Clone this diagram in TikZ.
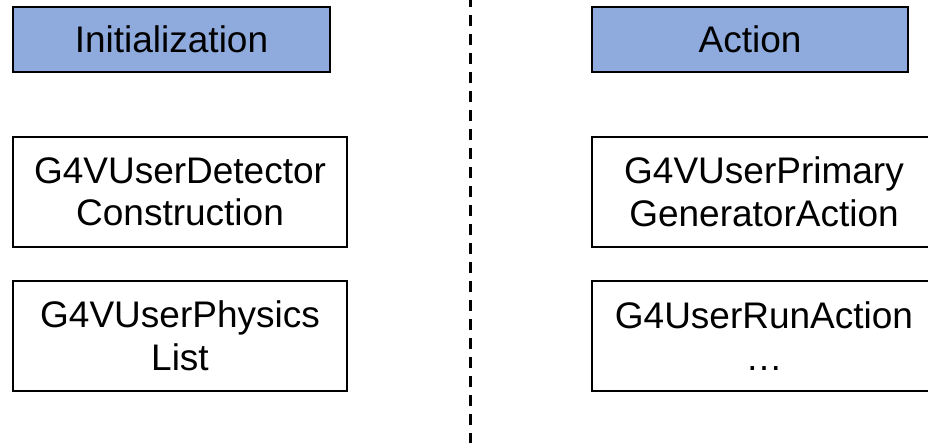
\documentclass[tikz,border=0pt]{standalone}
\usepackage{fontspec}
\setmainfont{Liberation Sans}
\definecolor{hdrblue}{HTML}{8FAADC}
\begin{document}
\begin{tikzpicture}[x=1pt,y=-1pt,
  box/.style={draw=black, line width=1.8pt, inner sep=0pt, align=center,
    font=\fontsize{37}{42.5}\selectfont},
  hdr/.style={box, fill=hdrblue}]
\useasboundingbox (0,0) rectangle (928,443);
\node[hdr, minimum width=317pt, minimum height=65pt] (init) at (171.5,39.5) {Initialization};
\node[hdr, minimum width=316pt, minimum height=65pt] (act) at (750,39.5) {Action};
\node[box, minimum width=334pt, minimum height=110pt] (det) at (180,192) {G4VUserDetector\\Construction};
\node[box, minimum width=334pt, minimum height=110pt] (phys) at (180,336) {G4VUserPhysics\\List};
\node[box, minimum width=344pt, minimum height=110pt] (prim) at (764,192) {G4VUserPrimary\\GeneratorAction};
\node[box, minimum width=344pt, minimum height=110pt] (run) at (764,336) {G4UserRunAction\\\ldots};
\coordinate (dtop) at (470.5,0);
\coordinate (dbot) at (470.5,443);
\draw[line width=2.7pt, dash pattern=on 11pt off 8pt, dash phase=4pt] (dtop) -- (dbot);
\end{tikzpicture}
\end{document}
